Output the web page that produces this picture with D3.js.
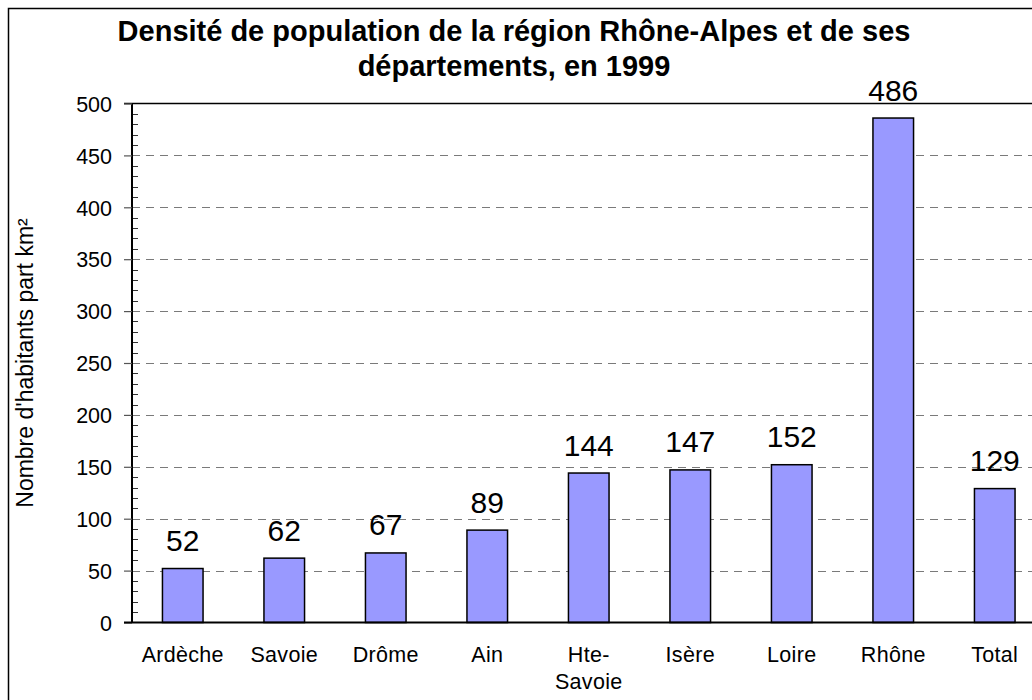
<!DOCTYPE html>
<html>
<head>
<meta charset="utf-8">
<script src="https://cdn.jsdelivr.net/npm/d3@7"></script>
<style>
  html, body { margin: 0; padding: 0; background: #fff; }
  svg { display: block; }
  text { font-family: "Liberation Sans", Arial, sans-serif; fill: #000; }
</style>
</head>
<body>
<svg id="chart" width="1032" height="700"></svg>
<script>
const categories = ["Ardèche", "Savoie", "Drôme", "Ain", "Hte-Savoie", "Isère", "Loire", "Rhône", "Total"];
const categoryLines = [["Ardèche"], ["Savoie"], ["Drôme"], ["Ain"], ["Hte-", "Savoie"], ["Isère"], ["Loire"], ["Rhône"], ["Total"]];
const densities = [52, 62, 67, 89, 144, 147, 152, 486, 129];
const yTicks = [0, 50, 100, 150, 200, 250, 300, 350, 400, 450, 500];
const titleLines = ["Densité de population de la région Rhône-Alpes et de ses", "départements, en 1999"];
const yTitle = "Nombre d'habitants part km²";

(function () {
const svg = d3.select("#chart");

// outer chart border (extends beyond the visible window)
svg.append("rect")
  .attr("x", 8.5).attr("y", 8.5)
  .attr("width", 1060).attr("height", 720)
  .attr("fill", "none").attr("stroke", "#000").attr("stroke-width", 1.5);

const pLeft = 132, pRight = 1045.5, pTop = 103.5, pBottom = 622.5;

const x = d3.scaleBand().domain(categories).range([pLeft, pRight]).paddingInner(0.6).paddingOuter(0.3);
const y = d3.scaleLinear().domain([0, 500]).range([pBottom, pTop]);

// gridlines
svg.append("g").selectAll("line")
  .data(yTicks.filter(t => t > 0 && t < 500))
  .join("line")
  .attr("x1", pLeft).attr("x2", pRight)
  .attr("y1", d => Math.round(y(d)) + 0.5).attr("y2", d => Math.round(y(d)) + 0.5)
  .attr("stroke", "#7a7a7a").attr("stroke-width", 1)
  .attr("stroke-dasharray", "8,6");

// top border of plot area
svg.append("line")
  .attr("x1", pLeft - 8).attr("x2", pRight)
  .attr("y1", y(500)).attr("y2", y(500))
  .attr("stroke", "#000").attr("stroke-width", 1.5);

// minor ticks
svg.append("g").selectAll("line")
  .data(d3.range(10, 500, 10).filter(v => v % 50 !== 0))
  .join("line")
  .attr("x1", pLeft).attr("x2", pLeft + 6)
  .attr("y1", d => Math.round(y(d)) + 0.5).attr("y2", d => Math.round(y(d)) + 0.5)
  .attr("stroke", "#333").attr("stroke-width", 1);

// y axis
const yAxis = d3.axisLeft(y).tickValues(yTicks).tickSize(8).tickPadding(12).tickFormat(d3.format("d"));
const gy = svg.append("g").attr("transform", `translate(${pLeft},0)`).call(yAxis);
gy.select(".domain").attr("stroke", "#000").attr("stroke-width", 2).attr("d", `M0,${pTop}V${pBottom}`);
gy.selectAll(".tick line").attr("stroke", "#555").attr("stroke-width", 1.2);
gy.selectAll(".tick text").style("font-size", "21.5px").style("font-family", "'Liberation Sans', Arial, sans-serif").attr("fill", "#000").attr("dy", "0.36em");

// bars
svg.append("g").selectAll("rect")
  .data(densities)
  .join("rect")
  .attr("x", (d, i) => x(categories[i]))
  .attr("y", d => y(d))
  .attr("width", x.bandwidth())
  .attr("height", d => y(0) - y(d))
  .attr("fill", "#9999ff")
  .attr("stroke", "#000").attr("stroke-width", 1.5);

// x axis baseline
svg.append("line")
  .attr("x1", pLeft - 8).attr("x2", pRight)
  .attr("y1", y(0)).attr("y2", y(0))
  .attr("stroke", "#000").attr("stroke-width", 2);

// value labels
svg.append("g").selectAll("text")
  .data(densities)
  .join("text")
  .attr("x", (d, i) => x(categories[i]) + x.bandwidth() / 2)
  .attr("y", d => y(d) - 17.5)
  .attr("text-anchor", "middle")
  .style("font-size", "30px")
  .text(d => d);

// category labels
const xl = svg.append("g").selectAll("text")
  .data(categories)
  .join("text")
  .attr("x", d => x(d) + x.bandwidth() / 2)
  .attr("y", 662)
  .attr("text-anchor", "middle")
  .style("font-size", "21.5px")
  .style("letter-spacing", "0.3px");
xl.each(function(d, i) {
  const t = d3.select(this);
  categoryLines[i].forEach((ln, j) => {
    t.append("tspan").attr("x", x(d) + x.bandwidth() / 2).attr("dy", j === 0 ? 0 : 27).text(ln);
  });
});

// title
svg.append("g").selectAll("text")
  .data(titleLines)
  .join("text")
  .attr("x", 514)
  .attr("y", (d, i) => 41 + i * 35)
  .attr("text-anchor", "middle")
  .style("font-size", "29px")
  .style("font-weight", "bold")
  .text(d => d);

// y title
svg.append("text")
  .attr("transform", `translate(33,${(pTop + pBottom) / 2}) rotate(-90)`)
  .attr("text-anchor", "middle")
  .style("font-size", "23px")
  .text(yTitle);
})();
</script>
</body>
</html>
